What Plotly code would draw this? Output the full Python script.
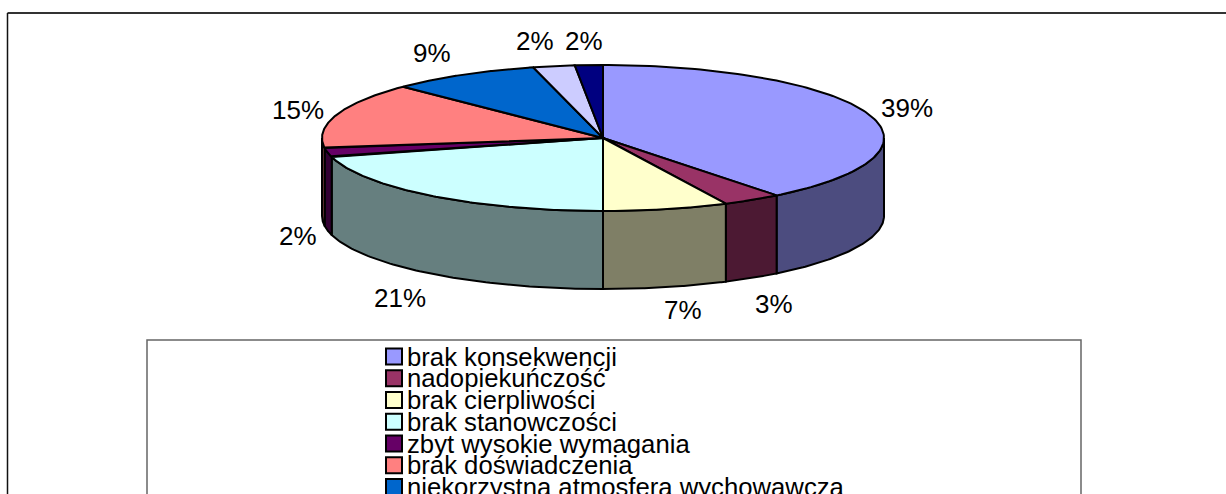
import numpy as np
import plotly.graph_objects as go

# ---- data ----
slice_values = [39.4, 3.4, 7.2, 20.8, 2.0, 14.6, 8.6, 2.4, 1.6]
slice_colors = ["#9999FF", "#993366", "#FFFFCC", "#CCFFFF", "#660066",
                "#FF8080", "#0066CC", "#CCCCFF", "#000080"]
legend_labels = ["brak konsekwencji", "nadopiekuńczość", "brak cierpliwości",
                 "brak stanowczości", "zbyt wysokie wymagania",
                 "brak doświadczenia", "niekorzystna atmosfera wychowawcza"]
# label nudges from the rim of the slice, in pixels
label_nudge_x = [38, 22, 17, -32, -30, -38, -31, -19, -5]
label_nudge_y = [-6, 104, 101, 102, 83, -5, -22, -25, -24]

# ---- geometry ----
W, H = 1226, 494
CX, CY, RX, RY, DEPTH = 603, 138, 281, 73, 78
FONT = "Liberation Sans"
FS = 26
LEG_FS = 25.7
LEG_X, LEG_Y0, LEG_DY = 394, 356.5, 21.75
LW = 2


def rim(deg):
    a = np.radians(deg)
    return CX + RX * np.sin(a), CY - RY * np.cos(a)


def darken(c):
    r, g, b = int(c[1:3], 16), int(c[3:5], 16), int(c[5:7], 16)
    return f"rgb({r // 2},{g // 2},{b // 2})"


total = sum(slice_values)
edges = np.cumsum([0] + slice_values) / total * 360

fig = go.Figure()

# side walls (only the front half of the disc is visible)
for i, col in enumerate(slice_colors):
    a0, a1 = max(edges[i], 90), min(edges[i + 1], 270)
    if a1 <= a0:
        continue
    t = np.linspace(a0, a1, 80)
    x, y = rim(t)
    xs = np.concatenate([x, x[::-1], x[:1]])
    ys = np.concatenate([y, y[::-1] + DEPTH, y[:1]])
    fig.add_trace(go.Scatter(x=xs, y=ys, mode="lines", fill="toself",
                             fillcolor=darken(col),
                             line=dict(color="black", width=LW),
                             hoverinfo="skip", showlegend=False))

# top faces
for i, col in enumerate(slice_colors):
    t = np.linspace(edges[i], edges[i + 1], 120)
    x, y = rim(t)
    xs = np.concatenate([[CX], x, [CX]])
    ys = np.concatenate([[CY], y, [CY]])
    fig.add_trace(go.Scatter(x=xs, y=ys, mode="lines", fill="toself",
                             fillcolor=col,
                             line=dict(color="black", width=LW),
                             hoverinfo="skip", showlegend=False))

# percentage labels
for i, v in enumerate(slice_values):
    mid = (edges[i] + edges[i + 1]) / 2
    x, y = rim(mid)
    fig.add_annotation(x=x, y=y, text=f"{round(v / total * 100)}%",
                       xshift=label_nudge_x[i], yshift=-label_nudge_y[i],
                       showarrow=False, xanchor="center", yanchor="middle",
                       font=dict(family=FONT, size=FS, color="black"))

# legend
rows = np.arange(len(legend_labels))
fig.add_trace(go.Scatter(x=[LEG_X] * len(rows), y=LEG_Y0 + rows * LEG_DY,
                         mode="markers", cliponaxis=True,
                         marker=dict(symbol="square", size=16,
                                     color=slice_colors[:len(rows)],
                                     line=dict(color="black", width=2)),
                         hoverinfo="skip", showlegend=False))
for r, lab in zip(rows, legend_labels):
    fig.add_annotation(x=LEG_X + 13, y=LEG_Y0 + r * LEG_DY, text=lab,
                       showarrow=False, xanchor="left", yanchor="middle",
                       borderpad=0, borderwidth=0,
                       font=dict(family=FONT, size=LEG_FS, color="black"))

shapes = [
    dict(type="line", x0=7.5, x1=W, y0=13, y1=13, line=dict(color="#333333", width=2)),
    dict(type="line", x0=7.5, x1=7.5, y0=13, y1=H + 5, line=dict(color="#111111", width=1.5)),
    dict(type="rect", x0=147, x1=1081, y0=340, y1=H + 20, line=dict(color="#666666", width=1.5)),
]

fig.update_layout(
    width=W, height=H, margin=dict(l=0, r=0, t=0, b=0),
    paper_bgcolor="white", plot_bgcolor="white",
    xaxis=dict(range=[0, W], visible=False, fixedrange=True),
    yaxis=dict(range=[H, 0], visible=False, fixedrange=True),
    shapes=shapes, showlegend=False,
)
fig.write_html("out.html", config=dict(displayModeBar=False),
               post_script="document.body.style.margin='0';"
                           "document.documentElement.style.overflow='hidden';")
